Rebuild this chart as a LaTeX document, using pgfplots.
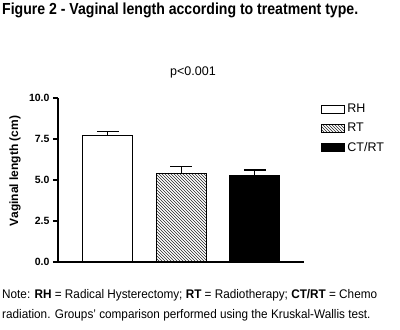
\documentclass[border=0pt]{standalone}
\usepackage{fontspec}
\setmainfont{Liberation Sans}
\newfontfamily\cond[FakeStretch=0.88]{Liberation Sans}
\newfontfamily\condn[FakeStretch=0.94]{Liberation Sans}
\usepackage{pgfplots}
\pgfplotsset{compat=1.18}
\usetikzlibrary{patterns}
\begin{document}
\begin{tikzpicture}[x=1pt,y=1pt]
\useasboundingbox (0,0) rectangle (400,330);
\node[anchor=north west,inner sep=0pt,font=\cond\fontsize{16}{18}\selectfont\bfseries] at (2,327) {Figure 2 - Vaginal length according to treatment type.};
\node[font=\fontsize{12.5}{14}\selectfont] at (193,258) {p<0.001};
\begin{axis}[
  at={(58pt,68pt)}, anchor=south west,
  scale only axis, width=246pt, height=164pt,
  xmin=-0.68, xmax=2.67, ymin=0, ymax=10,
  axis lines=left, axis line style={-, line width=1.1pt},
  xtick=\empty,
  ytick={0,2.5,5,7.5,10},
  yticklabel style={font=\fontsize{10.5}{12}\selectfont\bfseries, /pgf/number format/.cd, fixed, fixed zerofill, precision=1, assume math mode=true},
  tick style={line width=1.1pt, black},
  tick align=outside, major tick length=5pt,
  ybar, bar width=50pt, bar shift=0pt,
  legend style={draw=none, fill=none, at={(1.07,0.975)}, anchor=north west, font=\fontsize{12.5}{14}\selectfont, row sep=5pt, inner sep=0pt},
  legend cell align=left,
  legend image code/.code={\draw[#1, line width=1pt] (0pt,-4pt) rectangle (23pt,4pt);},
  error bars/error bar style={line width=1.1pt, black},
  error bars/error mark options={line width=1.1pt, black, mark size=11pt, rotate=90},
  clip=false,
]
\addplot[draw=black, fill=white, line width=1.1pt, error bars/.cd, y dir=plus, y explicit]
  coordinates {(0,7.74) +- (0,0.21)};
\addlegendentry{RH}
\addplot[draw=black, line width=1.1pt, pattern=north west lines, pattern color=black!85, error bars/.cd, y dir=plus, y explicit]
  coordinates {(1,5.41) +- (0,0.44)};
\addlegendentry{RT}
\addplot[draw=black, fill=black, line width=1.1pt, error bars/.cd, y dir=plus, y explicit]
  coordinates {(2,5.30) +- (0,0.31)};
\addlegendentry{CT/RT}
\end{axis}
\node[rotate=90, font=\fontsize{12}{14}\selectfont\bfseries] at (15,159) {Vaginal length (cm)};
\node[anchor=west, inner sep=0pt, font=\condn\fontsize{12.5}{14}\selectfont] at (2,35) {Note: \textbf{RH} = Radical Hysterectomy; \textbf{RT} = Radiotherapy; \textbf{CT/RT} = Chemo};
\node[anchor=west, inner sep=0pt, font=\condn\fontsize{12.5}{14}\selectfont] at (2,15) {radiation. Groups’ comparison performed using the Kruskal-Wallis test.};
\end{tikzpicture}
\end{document}
